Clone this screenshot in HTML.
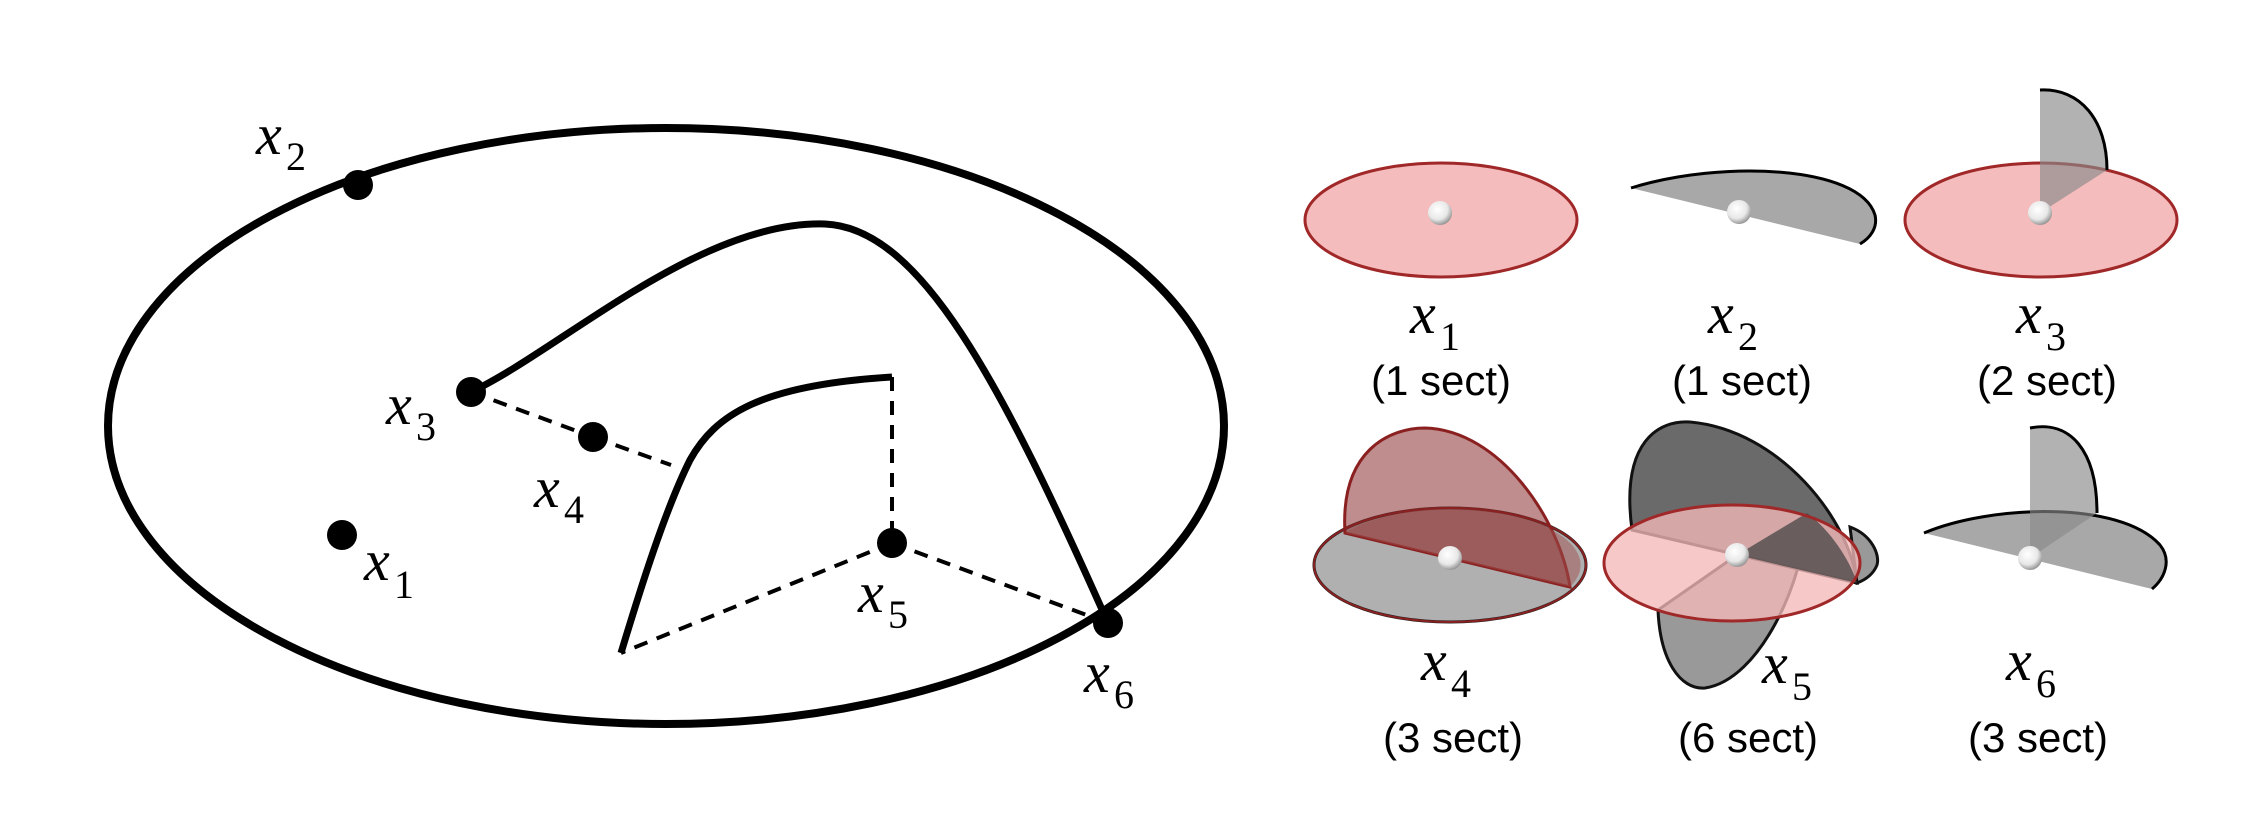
<!DOCTYPE html>
<html><head><meta charset="utf-8"><style>
html,body{margin:0;padding:0;background:#fff;}
svg{display:block;}
.xl{font-family:"Liberation Serif",serif;font-style:italic;font-size:58px;fill:#000;}
.sb{font-family:"Liberation Serif",serif;font-size:40px;fill:#000;}
.sc{font-family:"Liberation Sans",sans-serif;font-size:42px;fill:#000;}
</style></head><body>
<svg width="2242" height="822" viewBox="0 0 2242 822" xmlns="http://www.w3.org/2000/svg">
<defs>
<radialGradient id="ball" cx="0.4" cy="0.35" r="0.7">
<stop offset="0" stop-color="#fff"/><stop offset="0.6" stop-color="#e8e8e8"/><stop offset="1" stop-color="#888"/>
</radialGradient>
</defs>
<!-- left diagram -->
<ellipse cx="666" cy="426" rx="558" ry="298" fill="none" stroke="#000" stroke-width="8"/>
<path d="M471,392 C560,350 700,220 825,224 C920,228 1000,380 1108,623" fill="none" stroke="#000" stroke-width="7"/>
<path d="M621,653 C640,590 665,510 690,460 C715,415 760,385 892,377" fill="none" stroke="#000" stroke-width="7"/>
<g stroke="#000" stroke-width="4" stroke-dasharray="14,10" fill="none">
<line x1="892" y1="377" x2="892" y2="543"/>
<line x1="471" y1="392" x2="593" y2="437"/>
<line x1="593" y1="437" x2="671" y2="465"/>
<line x1="892" y1="543" x2="621" y2="653"/>
<line x1="892" y1="543" x2="1108" y2="623"/>
</g>
<g fill="#000">
<circle cx="358" cy="185" r="15"/><circle cx="471" cy="392" r="15"/><circle cx="593" cy="437" r="15"/>
<circle cx="342" cy="535" r="15"/><circle cx="892" cy="543" r="15"/><circle cx="1108" cy="623" r="15"/>
</g>
<text class="xl" x="256" y="154">x</text><text class="sb" x="286" y="170">2</text>
<text class="xl" x="386" y="424">x</text><text class="sb" x="416" y="440">3</text>
<text class="xl" x="534" y="507">x</text><text class="sb" x="564" y="523">4</text>
<text class="xl" x="364" y="580">x</text><text class="sb" x="394" y="598">1</text>
<text class="xl" x="858" y="612">x</text><text class="sb" x="888" y="628">5</text>
<text class="xl" x="1084" y="692">x</text><text class="sb" x="1114" y="708">6</text>

<!-- x1 -->
<ellipse cx="1441" cy="220" rx="136" ry="57" fill="#f4bcbc" stroke="#a02828" stroke-width="3"/>
<circle cx="1440" cy="213" r="12" fill="url(#ball)"/>
<!-- x2 -->
<path d="M1631,188 C1720,160 1860,165 1875,215 C1878,228 1870,238 1860,244 L1631,188 Z" fill="#a8a8a8"/>
<path d="M1631,188 C1720,160 1860,165 1875,215 C1878,228 1870,238 1860,244" fill="none" stroke="#000" stroke-width="3"/>
<circle cx="1739" cy="212" r="12" fill="url(#ball)"/>
<!-- x3 -->
<ellipse cx="2041" cy="220" rx="136" ry="57" fill="#f4bcbc" stroke="#a02828" stroke-width="3"/>
<path d="M2040,213 L2040,90 C2080,88 2107,120 2107,170 Z" fill="#888" fill-opacity="0.65"/>
<path d="M2040,90 C2080,88 2107,120 2107,170" fill="none" stroke="#000" stroke-width="3"/>
<circle cx="2040" cy="213" r="12" fill="url(#ball)"/>
<!-- x4 -->
<ellipse cx="1450" cy="565" rx="136" ry="57" fill="#b0b0b0" stroke="#222" stroke-width="3"/>
<path d="M1345,533 C1340,450 1390,428 1425,428 C1500,430 1560,520 1570,587 Z" fill="#8a3030" fill-opacity="0.55" stroke="#8a2020" stroke-width="3"/>
<path d="M1345,533 L1570,587 A136,57 0 0 0 1450,508 A136,57 0 0 0 1345,533 Z" fill="#a05050" fill-opacity="0.5" stroke="none"/>
<ellipse cx="1450" cy="565" rx="136" ry="57" fill="none" stroke="#8a2020" stroke-width="2"/>
<circle cx="1450" cy="558" r="12" fill="url(#ball)"/>
<!-- x5 -->
<path d="M1658,610 C1660,660 1680,690 1705,688 C1760,680 1805,580 1807,513 L1737,555 Z" fill="#999" stroke="#111" stroke-width="3"/>
<path d="M1850,527 C1872,535 1880,555 1877,565 C1873,575 1865,580 1857,583 Z" fill="#999" stroke="#111" stroke-width="3"/>
<path d="M1632,530 C1620,440 1660,420 1690,422 C1780,430 1850,520 1857,583 Z" fill="#6a6a6a" stroke="#111" stroke-width="3"/>
<ellipse cx="1732" cy="563" rx="128" ry="58" fill="#f4b8b8" fill-opacity="0.78"/>
<path d="M1737,555 L1807,513 C1830,530 1850,560 1857,583 Z" fill="#444" fill-opacity="0.75"/>
<ellipse cx="1732" cy="563" rx="128" ry="58" fill="none" stroke="#a02828" stroke-width="3"/>
<circle cx="1737" cy="555" r="12" fill="url(#ball)"/>
<!-- x6 -->
<path d="M1924,533 C1990,505 2120,500 2160,545 C2172,560 2165,578 2152,589 L1924,533 Z" fill="#a8a8a8"/>
<path d="M1924,533 C1990,505 2120,500 2160,545 C2172,560 2165,578 2152,589" fill="none" stroke="#000" stroke-width="3"/>
<path d="M2030,558 L2030,428 C2070,420 2097,450 2097,513 Z" fill="#888" fill-opacity="0.65"/>
<path d="M2030,428 C2070,420 2097,450 2097,513" fill="none" stroke="#000" stroke-width="3"/>
<circle cx="2030" cy="558" r="12" fill="url(#ball)"/>

<!-- right labels -->
<text class="xl" x="1410" y="333">x</text><text class="sb" x="1440" y="350">1</text>
<text class="sc" x="1441" y="395" text-anchor="middle">(1 sect)</text>
<text class="xl" x="1708" y="333">x</text><text class="sb" x="1738" y="350">2</text>
<text class="sc" x="1742" y="395" text-anchor="middle">(1 sect)</text>
<text class="xl" x="2016" y="333">x</text><text class="sb" x="2046" y="350">3</text>
<text class="sc" x="2047" y="395" text-anchor="middle">(2 sect)</text>
<text class="xl" x="1421" y="680">x</text><text class="sb" x="1451" y="697">4</text>
<text class="sc" x="1453" y="752" text-anchor="middle">(3 sect)</text>
<text class="xl" x="1762" y="683">x</text><text class="sb" x="1792" y="700">5</text>
<text class="sc" x="1748" y="752" text-anchor="middle">(6 sect)</text>
<text class="xl" x="2006" y="680">x</text><text class="sb" x="2036" y="697">6</text>
<text class="sc" x="2038" y="752" text-anchor="middle">(3 sect)</text>
</svg>
</body></html>
